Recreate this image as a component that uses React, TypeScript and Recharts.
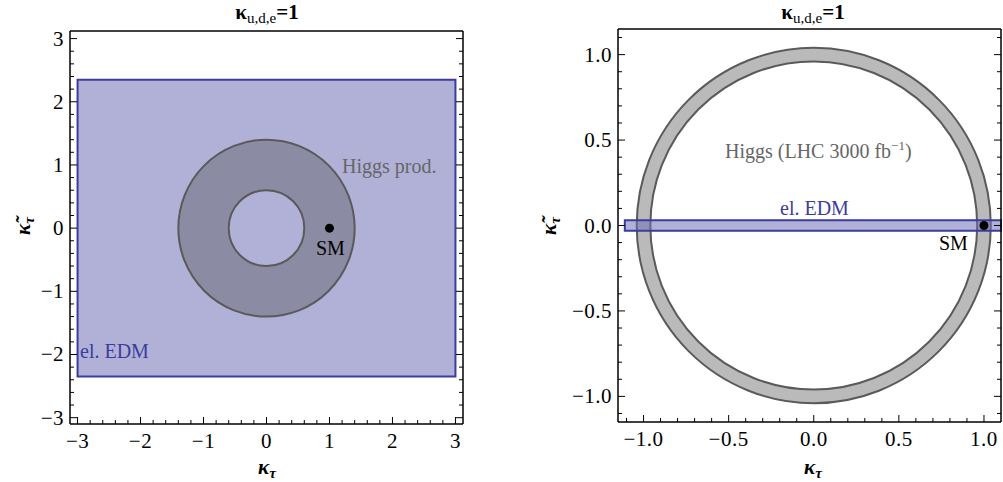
import React from 'react';
import { ComposedChart, XAxis, YAxis, Scatter, ReferenceArea } from 'recharts';

// ---------- data ----------
const leftMajorTicks = [-3, -2, -1, 0, 1, 2, 3];
const leftAllTicks = [
  -3, -2.8, -2.6, -2.4, -2.2, -2, -1.8, -1.6, -1.4, -1.2, -1, -0.8, -0.6, -0.4, -0.2,
  0, 0.2, 0.4, 0.6, 0.8, 1, 1.2, 1.4, 1.6, 1.8, 2, 2.2, 2.4, 2.6, 2.8, 3,
];
const rightMajorTicks = [-1, -0.5, 0, 0.5, 1];
const rightAllTicksX = [
  -1.1, -1, -0.9, -0.8, -0.7, -0.6, -0.5, -0.4, -0.3, -0.2, -0.1,
  0, 0.1, 0.2, 0.3, 0.4, 0.5, 0.6, 0.7, 0.8, 0.9, 1,
];
const rightAllTicksY = [
  -1.1, -1, -0.9, -0.8, -0.7, -0.6, -0.5, -0.4, -0.3, -0.2, -0.1,
  0, 0.1, 0.2, 0.3, 0.4, 0.5, 0.6, 0.7, 0.8, 0.9, 1, 1.1,
];
const leftDomainX = [-3.12, 3.12];
const leftDomainY = [-3.1, 3.12];
const rightDomainX = [-1.15, 1.1];
const rightDomainY = [-1.15, 1.15];

const leftEdm = { x1: -3, x2: 3, y1: -2.35, y2: 2.35 };
const leftHiggs = { rInner: 0.6, rOuter: 1.4 };
const rightEdm = { x1: -1.11, x2: 1.1, y1: -0.03, y2: 0.03 };
const rightHiggs = { rInner: 0.96, rOuter: 1.04 };
const smPoint = [{ x: 1, y: 0 }];

// ---------- styling ----------
const FONT = "'Liberation Serif', 'Times New Roman', serif";
const BLUE_STROKE = '#3c3c9c';
const GRAY_STROKE = '#5a5a5a';
const TICK_FS = 21;

const fmtInt = (v: number) => (v < 0 ? '\u2212' + Math.abs(v) : String(v));
const fmtOne = (v: number) => (v < 0 ? '\u2212' + Math.abs(v).toFixed(1) : v.toFixed(1));

function makeTick(
  side: 'bottom' | 'top' | 'left' | 'right',
  majors: number[],
  fmt: ((v: number) => string) | null
) {
  return (props: any) => {
    const { x, y, payload } = props;
    const v = payload.value as number;
    const major = majors.some((m) => Math.abs(m - v) < 1e-6);
    const len = major ? 7 : 4;
    let line;
    let label = null;
    if (side === 'bottom') {
      line = <line x1={x} y1={y} x2={x} y2={y - len} stroke="#000" strokeWidth={1} />;
      if (major && fmt)
        label = (
          <text x={x} y={y + 24} textAnchor="middle" fontFamily={FONT} fontSize={TICK_FS} fill="#000" letterSpacing={0.5}>
            {fmt(v)}
          </text>
        );
    } else if (side === 'top') {
      line = <line x1={x} y1={y} x2={x} y2={y + len} stroke="#000" strokeWidth={1} />;
    } else if (side === 'left') {
      line = <line x1={x} y1={y} x2={x + len} y2={y} stroke="#000" strokeWidth={1} />;
      if (major && fmt)
        label = (
          <text x={x - 6} y={y + 7} textAnchor="end" fontFamily={FONT} fontSize={TICK_FS} fill="#000" letterSpacing={0.5}>
            {fmt(v)}
          </text>
        );
    } else {
      line = <line x1={x} y1={y} x2={x - len} y2={y} stroke="#000" strokeWidth={1} />;
    }
    return (
      <g>
        {line}
        {label}
      </g>
    );
  };
}

const annulusShape = (ratio: number, fill: string) => (p: any) => {
  const { x, y, width, height } = p;
  const cx = x + width / 2;
  const cy = y + height / 2;
  const rx = width / 2;
  const ry = height / 2;
  const irx = rx * ratio;
  const iry = ry * ratio;
  const d =
    `M ${cx - rx} ${cy} A ${rx} ${ry} 0 1 0 ${cx + rx} ${cy} A ${rx} ${ry} 0 1 0 ${cx - rx} ${cy} Z ` +
    `M ${cx - irx} ${cy} A ${irx} ${iry} 0 1 0 ${cx + irx} ${cy} A ${irx} ${iry} 0 1 0 ${cx - irx} ${cy} Z`;
  return <path d={d} fill={fill} fillRule="evenodd" stroke={GRAY_STROKE} strokeWidth={2} />;
};

const smShape = (p: any) => <circle cx={p.cx} cy={p.cy} r={4.5} fill="#000" />;

const axisLine = { stroke: '#000', strokeWidth: 1.5 };

function Frame(props: {
  domainX: number[];
  domainY: number[];
  ticksX: number[];
  ticksY: number[];
  majorsX: number[];
  majorsY: number[];
  fmt: (v: number) => string;
}) {
  const { domainX, domainY, ticksX, ticksY, majorsX, majorsY, fmt } = props;
  return [
    <XAxis
      key="xb"
      xAxisId="b"
      orientation="bottom"
      type="number"
      dataKey="x"
      domain={domainX}
      ticks={ticksX}
      interval={0}
      height={1}
      tickSize={0}
      tickMargin={0}
      tickLine={false}
      axisLine={axisLine}
      allowDataOverflow
      tick={makeTick('bottom', majorsX, fmt)}
    />,
    <XAxis
      key="xt"
      xAxisId="t"
      orientation="top"
      type="number"
      domain={domainX}
      ticks={ticksX}
      interval={0}
      height={1}
      tickSize={0}
      tickMargin={0}
      tickLine={false}
      axisLine={axisLine}
      allowDataOverflow
      tick={makeTick('top', majorsX, null)}
    />,
    <YAxis
      key="yl"
      yAxisId="l"
      orientation="left"
      type="number"
      dataKey="y"
      domain={domainY}
      ticks={ticksY}
      interval={0}
      width={1}
      tickSize={0}
      tickMargin={0}
      tickLine={false}
      axisLine={axisLine}
      allowDataOverflow
      tick={makeTick('left', majorsY, fmt)}
    />,
    <YAxis
      key="yr"
      yAxisId="r"
      orientation="right"
      type="number"
      domain={domainY}
      ticks={ticksY}
      interval={0}
      width={1}
      tickSize={0}
      tickMargin={0}
      tickLine={false}
      axisLine={axisLine}
      allowDataOverflow
      tick={makeTick('right', majorsY, null)}
    />,
  ];
}

function LeftChart() {
  return (
    <ComposedChart width={500} height={482} margin={{ top: 30, left: 69, right: 36, bottom: 57 }}>
      {Frame({
        domainX: leftDomainX,
        domainY: leftDomainY,
        ticksX: leftAllTicks,
        ticksY: leftAllTicks,
        majorsX: leftMajorTicks,
        majorsY: leftMajorTicks,
        fmt: fmtInt,
      })}
      <ReferenceArea
        xAxisId="b"
        yAxisId="l"
        x1={leftEdm.x1}
        x2={leftEdm.x2}
        y1={leftEdm.y1}
        y2={leftEdm.y2}
        fill="#b1b1d8"
        fillOpacity={1}
        stroke={BLUE_STROKE}
        strokeWidth={2}
        ifOverflow="visible"
      />
      <ReferenceArea
        xAxisId="b"
        yAxisId="l"
        x1={-leftHiggs.rOuter}
        x2={leftHiggs.rOuter}
        y1={-leftHiggs.rOuter}
        y2={leftHiggs.rOuter}
        ifOverflow="visible"
        shape={annulusShape(leftHiggs.rInner / leftHiggs.rOuter, '#8b8ba3')}
      />
      <Scatter xAxisId="b" yAxisId="l" data={smPoint} dataKey="y" shape={smShape} isAnimationActive={false} />
    </ComposedChart>
  );
}

function RightChart() {
  return (
    <ComposedChart width={463} height={482} margin={{ top: 28, left: 77, right: 1, bottom: 59 }}>
      {Frame({
        domainX: rightDomainX,
        domainY: rightDomainY,
        ticksX: rightAllTicksX,
        ticksY: rightAllTicksY,
        majorsX: rightMajorTicks,
        majorsY: rightMajorTicks,
        fmt: fmtOne,
      })}
      <ReferenceArea
        xAxisId="b"
        yAxisId="l"
        x1={-rightHiggs.rOuter}
        x2={rightHiggs.rOuter}
        y1={-rightHiggs.rOuter}
        y2={rightHiggs.rOuter}
        ifOverflow="visible"
        shape={annulusShape(rightHiggs.rInner / rightHiggs.rOuter, '#bababa')}
      />
      <ReferenceArea
        xAxisId="b"
        yAxisId="l"
        x1={rightEdm.x1}
        x2={rightEdm.x2}
        y1={rightEdm.y1}
        y2={rightEdm.y2}
        fill="rgb(109,109,183)"
        fillOpacity={0.54}
        stroke={BLUE_STROKE}
        strokeWidth={2}
        ifOverflow="visible"
      />
      <Scatter xAxisId="b" yAxisId="l" data={smPoint} dataKey="y" shape={smShape} isAnimationActive={false} />
    </ComposedChart>
  );
}

function Overlay() {
  const t = { fontFamily: FONT };
  return (
    <svg width={1003} height={482} style={{ position: 'absolute', left: 0, top: 0, pointerEvents: 'none' }}>
      {/* titles */}
      {[267, 813].map((cx) => (
        <text key={cx} x={cx} y={19} textAnchor="middle" {...t} fontSize={21} fill="#000">
          <tspan fontWeight="bold">κ</tspan>
          <tspan fontSize={15} dy={4}>u,d,e</tspan>
          <tspan dy={-4} fontWeight="bold">=1</tspan>
        </text>
      ))}
      {/* x labels */}
      {[267, 813].map((cx) => (
        <text key={'x' + cx} x={cx} y={474} textAnchor="middle" {...t} fontSize={21} fontWeight="bold" fontStyle="italic" fill="#000">
          κ<tspan fontSize={15} dy={4}>τ</tspan>
        </text>
      ))}
      {/* y labels */}
      {[[30, 226], [556, 226]].map(([x, y]) => (
        <text
          key={'y' + x}
          x={x}
          y={y}
          transform={`rotate(-90 ${x} ${y})`}
          textAnchor="middle"
          {...t}
          fontSize={21}
          fontWeight="bold"
          fontStyle="italic"
          fill="#000"
        >
          κ̃<tspan fontSize={15} dy={4}>τ</tspan>
        </text>
      ))}
      {/* left panel labels */}
      <text x={342} y={173} {...t} fontSize={20} fill="#666">Higgs prod.</text>
      <text x={316} y={255} {...t} fontSize={20} fill="#000">SM</text>
      <text x={80} y={358} {...t} fontSize={20} fill={BLUE_STROKE}>el. EDM</text>
      {/* right panel labels */}
      <text x={725} y={158} {...t} fontSize={20} fill="#666">
        Higgs (LHC 3000 fb<tspan fontSize={13} dy={-8}>−1</tspan><tspan dy={8}>)</tspan>
      </text>
      <text x={780} y={215} {...t} fontSize={20} fill={BLUE_STROKE}>el. EDM</text>
      <text x={939} y={250} {...t} fontSize={20} fill="#000">SM</text>
    </svg>
  );
}

export default function App() {
  return (
    <div style={{ position: 'absolute', left: 0, top: 0, width: 1003, height: 482, background: '#fff' }}>
      <div style={{ position: 'absolute', left: 0, top: 0 }}>
        <LeftChart />
      </div>
      <div style={{ position: 'absolute', left: 540, top: 0 }}>
        <RightChart />
      </div>
      <Overlay />
    </div>
  );
}
